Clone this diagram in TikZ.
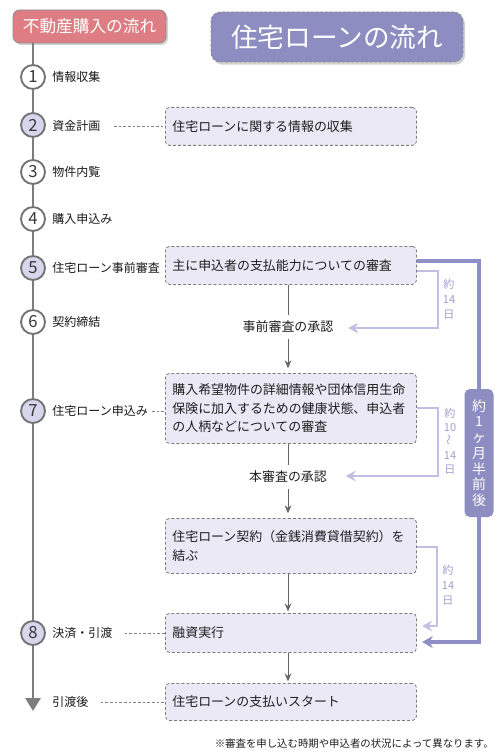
\documentclass[tikz,border=0pt]{standalone}
\usepackage{fontspec}
\setmainfont{Noto Sans CJK JP}
\usepackage{graphicx}
\usetikzlibrary{arrows.meta,shadows,calc}
\definecolor{pinkbox}{RGB}{222,126,132}
\definecolor{titlepurple}{RGB}{141,141,194}
\definecolor{boxfill}{RGB}{235,233,246}
\definecolor{boxborder}{RGB}{125,125,125}
\definecolor{brlight}{RGB}{192,192,228}
\definecolor{brdark}{RGB}{143,143,200}
\definecolor{brtextc}{RGB}{160,160,208}
\definecolor{circfill}{RGB}{214,214,236}
\definecolor{circline}{RGB}{115,115,115}
\definecolor{tlgray}{RGB}{125,125,125}
\newcommand{\fsBox}{\fontsize{9.7pt}{13.9pt}\selectfont}
\newcommand{\fsLab}{\fontsize{9pt}{11pt}\selectfont}
\newcommand{\fsNum}{\fontsize{12.5pt}{13pt}\selectfont}
\newcommand{\fsBrA}{\fontsize{8.3pt}{11.2pt}\selectfont}
\newcommand{\fsBrB}{\fontsize{8.3pt}{10.5pt}\selectfont}
\newcommand{\fsBig}{\fontsize{10.5pt}{11.8pt}\selectfont}
\newcommand{\fsPink}{\fontsize{12.5pt}{14pt}\selectfont}
\newcommand{\fsPurple}{\fontsize{20pt}{22pt}\selectfont}
\newcommand{\fsNote}{\fontsize{7.8pt}{9pt}\selectfont}
\begin{document}
\begin{tikzpicture}[x=0.75pt,y=-0.75pt,
  flowbox/.style={draw=boxborder, dash pattern=on 2.2pt off 1.6pt, fill=boxfill, rounded corners=3pt, line width=0.6pt, anchor=north west, text width=177.75pt, inner xsep=5.25pt, inner ysep=0pt, align=left, font=\fsBox, text=black!88},
  steplabel/.style={anchor=west, font=\fsLab, inner sep=2pt, text=black!90},
  numcirc/.style={circle, draw=circline, line width=1.4pt, fill=white, minimum size=18pt, inner sep=0pt, font=\fsNum, text=black!78},
  numcircB/.style={numcirc, fill=circfill},
  dashconn/.style={draw=gray, line width=0.5pt, dash pattern=on 2pt off 1.5pt},
  flowarrow/.style={draw=black!60, line width=0.7pt, -{Stealth[length=6pt,width=5pt]}},
  flowline/.style={draw=black!60, line width=0.7pt},
  lightbrk/.style={draw=brlight, line width=1.5pt, -{Stealth[length=7.5pt,width=8pt,inset=2.5pt]}},
  darkbrk/.style={draw=brdark, line width=2.3pt, -{Stealth[length=8pt,width=9pt,inset=2.5pt]}},
  approval/.style={font=\fsBox, inner xsep=3pt, inner ysep=4pt, text=black!88},
  brtext/.style={text=brtextc, align=center, inner sep=0pt},
  pinktitle/.style={fill=pinkbox, draw=black!45, line width=0.6pt, rounded corners=5pt, minimum width=114.75pt, minimum height=24.75pt, text=white, font=\fsPink, drop shadow={shadow xshift=1.5pt, shadow yshift=-1.5pt, opacity=0.35}},
  purpletitle/.style={fill=titlepurple, draw=black!45, dash pattern=on 2pt off 1.5pt, line width=0.6pt, rounded corners=7pt, minimum width=189pt, minimum height=37.5pt, text=white, font=\fsPurple, drop shadow={shadow xshift=1.5pt, shadow yshift=-2pt, opacity=0.35}},
  biglabel/.style={fill=titlepurple, rounded corners=4pt, minimum width=21.75pt, minimum height=96pt, text=white, align=center, font=\fsBig, inner sep=0pt},
  timeline/.style={draw=tlgray, line width=2.2pt, -{Triangle[length=9.75pt,width=11.25pt]}}
]
\fill[white] (0,0) rectangle (500,756);
\useasboundingbox (0,0) rectangle (500,756);

% titles
\node[pinktitle] (ttl1) at (89.5,26.5) {不動産購入の流れ};
\node[purpletitle] (ttl2) at (337,37) {住宅ローンの流れ};

% timeline
\coordinate (tltop) at (33,43);
\coordinate (tlend) at (33,711);
\draw[timeline] (tltop) -- (tlend);

% circles
\node[numcirc]  (c1) at (33,77) {1};
\node[numcircB] (c2) at (33,125) {2};
\node[numcirc]  (c3) at (33,172) {3};
\node[numcirc]  (c4) at (33,219) {4};
\node[numcircB] (c5) at (33,268) {5};
\node[numcirc]  (c6) at (33,322) {6};
\node[numcircB] (c7) at (33,411) {7};
\node[numcircB] (c8) at (33,633) {8};

% step labels
\node[steplabel] (l1) at (49.5,77) {情報収集};
\node[steplabel] (l2) at (49.5,126) {資金計画};
\node[steplabel] (l3) at (49.5,172) {物件内覧};
\node[steplabel] (l4) at (49.5,219) {購入申込み};
\node[steplabel] (l5) at (49.5,268) {住宅ローン事前審査};
\node[steplabel] (l6) at (49.5,322) {契約締結};
\node[steplabel] (l7) at (49.5,411) {住宅ローン申込み};
\node[steplabel] (l8) at (49.5,633) {決済・引渡};
\node[steplabel] (l9) at (49.5,702) {引渡後};

% flow boxes
\node[flowbox, minimum height=28.5pt] (b1) at (165,107) {住宅ローンに関する情報の収集};
\node[flowbox, minimum height=28.5pt] (b2) at (165,246) {主に申込者の支払能力についての審査};
\node[flowbox, minimum height=52.5pt] (b3) at (165,373) {購入希望物件の詳細情報や団体信用生命\\保険に加入するための健康状態、申込者\\の人柄などについての審査};
\node[flowbox, minimum height=41.25pt] (b4) at (165,518) {住宅ローン契約（金銭消費貸借契約）を\\結ぶ};
\node[flowbox, minimum height=29.25pt] (b5) at (165,613) {融資実行};
\node[flowbox, minimum height=27.75pt] (b6) at (165,683) {住宅ローンの支払いスタート};

% approvals
\node[approval] (a1) at (288,327) {事前審査の承認};
\node[approval] (a2) at (288,477) {本審査の承認};

% flow arrows
\draw[flowline] (b2.south -| a1) -- (a1.north);
\draw[flowarrow, shorten >=3.5pt] (a1.south) -- (b3.north -| a1);
\draw[flowline] (b3.south -| a2) -- (a2.north);
\draw[flowarrow, shorten >=3.5pt] (a2.south) -- (b4.north -| a2);
\draw[flowarrow, shorten >=1.2pt] (b4.south -| a2) -- (b5.north -| a2);
\draw[flowarrow, shorten >=1.2pt] (b5.south -| a2) -- (b6.north -| a2);

% dashed connectors
\draw[dashconn, shorten <=8pt] (l2.east) -- (l2.east -| b1.west);
\draw[dashconn, shorten <=1pt] (l7.east) -- (l7.east -| b3.west);
\draw[dashconn, shorten <=7pt] (l8.east) -- (l8.east -| b5.west);
\draw[dashconn, shorten <=7pt] (l9.east) -- (l9.east -| b6.west);

% light brackets
\coordinate (k1a) at (438,271);
\coordinate (k1b) at (438,328);
\draw[lightbrk, shorten >=8pt] (b2.east |- k1a) -- (k1a) -- (k1b) -- (k1b -| a1.east);
\coordinate (k2a) at (438,408);
\coordinate (k2b) at (438,476);
\draw[lightbrk, shorten >=11pt] (b3.east |- k2a) -- (k2a) -- (k2b) -- (k2b -| a2.east);
\coordinate (k3a) at (437,547);
\coordinate (k3b) at (437,626);
\draw[lightbrk, shorten >=4pt] (b4.east |- k3a) -- (k3a) -- (k3b) -- (k3b -| b5.east);

% dark bracket
\coordinate (k4a) at (479,261);
\coordinate (k4b) at (479,642);
\draw[darkbrk, shorten >=4pt] (b2.east |- k4a) -- (k4a) -- (k4b) -- (k4b -| b5.east);

% bracket texts
\node[brtext, font=\fsBrA] (n1) at (449,299) {約\\14\\日};
\node[brtext, font=\fsBrB] (n2) at (450,441) {約\\10\\\rotatebox{90}{～}\\14\\日};
\node[brtext, font=\fsBrA] (n3) at (448,585) {約\\14\\日};
\node[biglabel] (n4) at (479,453) {約\\1\\ヶ\\月\\半\\前\\後};

% note
\node[anchor=east, font=\fsNote, text=black!88, inner sep=0pt] (note) at (494,744) {※審査を申し込む時期や申込者の状況によって異なります。};
\end{tikzpicture}
\end{document}
